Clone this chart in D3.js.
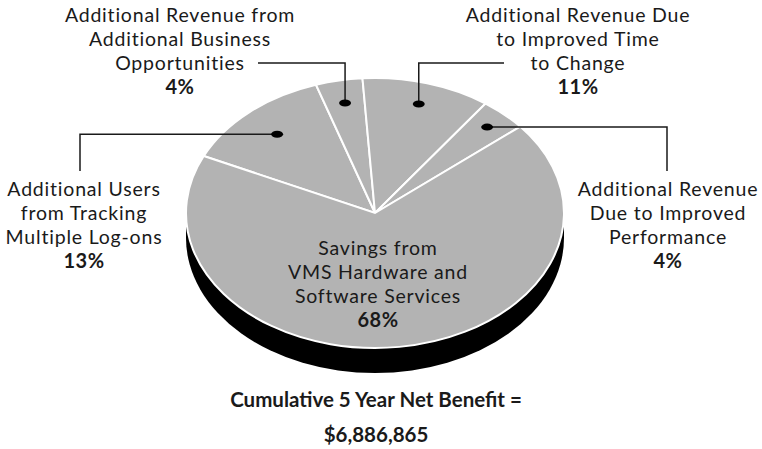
<!DOCTYPE html>
<html>
<head>
<meta charset="utf-8">
<script src="https://cdn.jsdelivr.net/npm/d3@7"></script>
<style>
  body { margin: 0; background: #fff; }
  text { fill: #1a1a1a; font-family: Lato, sans-serif; }
  .lbl { font-size: 19.5px; letter-spacing: 0.8px; }
  .pct { font-size: 20px; font-weight: bold; letter-spacing: 0.5px; }
  .title { font-size: 20.5px; font-weight: bold; }
</style>
</head>
<body>
<div id="chart"></div>
<script>
// data
const categories = ['Additional Users from Tracking Multiple Log-ons',
                    'Additional Revenue from Additional Business Opportunities',
                    'Additional Revenue Due to Improved Time to Change',
                    'Additional Revenue Due to Improved Performance',
                    'Savings from VMS Hardware and Software Services'];
const shares = [13, 4, 11, 4, 68];
const labelLines = [
    ['Additional Users', 'from Tracking', 'Multiple Log-ons'],
    ['Additional Revenue from', 'Additional Business', 'Opportunities'],
    ['Additional Revenue Due', 'to Improved Time', 'to Change'],
    ['Additional Revenue', 'Due to Improved', 'Performance'],
    ['Savings from', 'VMS Hardware and', 'Software Services']
];
const titleLines = ['Cumulative 5 Year Net Benefit =', '$6,886,865'];

const width = 762, height = 449;
const cx = 375, cy = 213, rx = 189, ry = 135, depth = 25;
const lineH = 24;

// where each label block sits and how its leader runs (px)
const layout = [
    {x: 84,  y: 196, leader: 'left',     end: 80,  dotR: 0.78},
    {x: 180, y: 22,  leader: 'up-left',  end: 258, dotR: 0.83},
    {x: 578, y: 22,  leader: 'up-right', end: 504, dotR: 0.84},
    {x: 668, y: 196, leader: 'right',    end: 667, dotR: 0.87},
    {x: 378, y: 255, leader: null}
];

const deg = Math.PI / 180;
const pie = d3.pie().sort(null).value(d => d)
    .startAngle(295 * deg).endAngle(295 * deg + 2 * Math.PI);
const arcs = pie(shares);

const arc = d3.arc().innerRadius(0).outerRadius(rx);

function toScreen(p) {
    return [cx + p[0], cy + p[1] * ry / rx];
}

function drawBase(svg) {
    // black extruded side of the disc
    svg.append('ellipse')
        .attr('cx', cx).attr('cy', cy + depth)
        .attr('rx', rx).attr('ry', ry)
        .attr('fill', '#000');
    svg.append('rect')
        .attr('x', cx - rx).attr('y', cy)
        .attr('width', rx * 2).attr('height', depth)
        .attr('fill', '#000');
}

function drawSlices(svg) {
    const g = svg.append('g')
        .attr('transform', 'translate(' + cx + ',' + cy + ') scale(1,' + (ry / rx) + ')');
    g.selectAll('path')
        .data(arcs)
        .enter()
        .append('path')
        .attr('d', arc)
        .attr('fill', '#b3b3b3')
        .attr('stroke', '#fff')
        .attr('stroke-width', 2)
        .attr('vector-effect', 'non-scaling-stroke');
}

function drawLeaders(svg) {
    arcs.forEach((a, i) => {
        const L = layout[i];
        if (!L.leader) return;
        const r = rx * L.dotR;
        const p = toScreen(d3.arc().innerRadius(r).outerRadius(r).centroid(a));
        let pts;
        if (L.leader === 'left' || L.leader === 'right')
            pts = [p, [L.end, p[1]], [L.end, L.y - 25]];
        else
            pts = [p, [p[0], L.y + 2 * lineH - 7], [L.end, L.y + 2 * lineH - 7]];
        svg.append('path')
            .attr('d', d3.line()(pts))
            .attr('fill', 'none')
            .attr('stroke', '#1a1a1a')
            .attr('stroke-width', 1.5);
        svg.append('ellipse')
            .attr('cx', p[0]).attr('cy', p[1])
            .attr('rx', 6).attr('ry', 3.5)
            .attr('fill', '#000');
    });
}

function drawLabels(svg) {
    arcs.forEach((a, i) => {
        const L = layout[i];
        const t = svg.append('text').attr('text-anchor', 'middle');
        labelLines[i].forEach((s, j) => {
            t.append('tspan').attr('class', 'lbl')
                .attr('x', L.x).attr('y', L.y + j * lineH).text(s);
        });
        t.append('tspan').attr('class', 'pct')
            .attr('x', L.x).attr('y', L.y + 3 * lineH).text(a.data + '%');
    });
}

function drawTitle(svg) {
    titleLines.forEach((s, j) => {
        svg.append('text').attr('class', 'title')
            .attr('text-anchor', 'middle')
            .attr('x', 376).attr('y', 407 + j * 35)
            .text(s);
    });
}

const svg = d3.select('#chart').append('svg')
    .attr('width', width).attr('height', height);
drawBase(svg);
drawSlices(svg);
drawLeaders(svg);
drawLabels(svg);
drawTitle(svg);
</script>
</body>
</html>
